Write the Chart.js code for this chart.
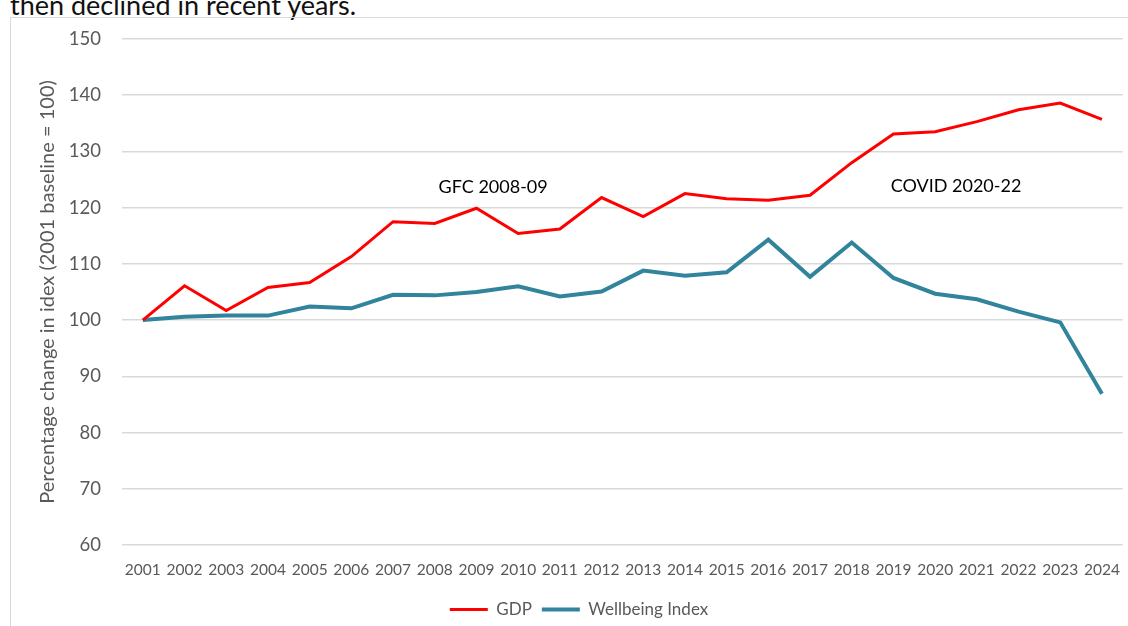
<!DOCTYPE html>
<html>
<head>
<meta charset="utf-8">
<script src="https://cdn.jsdelivr.net/npm/chart.js@4.4.1/dist/chart.umd.min.js"></script>
<style>
  html, body { margin: 0; padding: 0; background: #fff; overflow: hidden; }
  #caption { position: absolute; left: 10px; top: -12px; font-family: Lato, sans-serif; font-weight: 400; font-size: 27px; color: #111; white-space: nowrap; }
  #frame { position: absolute; left: 10px; top: 17px; width: 1200px; height: 700px; border: 1.5px solid #d9d9d9; }
  #wrap { position: absolute; left: 0; top: 0; width: 1128px; height: 626px; }
</style>
</head>
<body>
<div id="caption">then declined in recent years.</div>
<div id="frame"></div>
<div id="wrap"><canvas id="canvas" width="1128" height="626"></canvas></div>
<script>
// values
var years = ['2001', '2002', '2003', '2004', '2005', '2006', '2007', '2008', '2009', '2010', '2011', '2012',
             '2013', '2014', '2015', '2016', '2017', '2018', '2019', '2020', '2021', '2022', '2023', '2024'];
var gdp = [100, 106.1, 101.7, 105.8, 106.7, 111.3, 117.5, 117.2, 119.9, 115.4, 116.2, 121.8,
           118.4, 122.5, 121.6, 121.3, 122.2, 128.0, 133.1, 133.5, 135.3, 137.4, 138.6, 135.7];
var wellbeing = [100, 100.6, 100.8, 100.8, 102.4, 102.1, 104.5, 104.4, 105.0, 106.0, 104.2, 105.1,
                 108.8, 107.9, 108.5, 114.3, 107.7, 113.8, 107.5, 104.7, 103.7, 101.5, 99.6, 86.9];
var yMin = 60, yMax = 150, yStep = 10;

// text notes, anchored in data units (category index, index value)
var notes = [
  { text: 'GFC 2008-09', at: 8.4, value: 123.6 },
  { text: 'COVID 2020-22', at: 19.5, value: 123.8 }
];

var notePlugin = {
  id: 'notes',
  afterDatasetsDraw: function (chart) {
    var ctx = chart.ctx;
    var x = chart.scales.x, y = chart.scales.y;
    ctx.save();
    ctx.font = '18px Lato';
    ctx.fillStyle = '#000';
    ctx.textAlign = 'center';
    ctx.textBaseline = 'middle';
    notes.forEach(function (n) {
      ctx.fillText(n.text, x.getPixelForValue(n.at), y.getPixelForValue(n.value));
    });
    ctx.restore();
  }
};

// nudge the legend a bit right/down, like the excel original
var legendShift = {
  id: 'legendShift',
  afterLayout: function (chart) {
    var lg = chart.legend;
    lg.left += 17; lg.right += 17;
    lg.top += 2; lg.bottom += 2;
  }
};

var ctx = document.getElementById('canvas');

new Chart(ctx, {
  type: 'line',
  data: {
    labels: years,
    datasets: [{
      label: 'GDP',
      data: gdp,
      borderColor: '#ff0000',
      backgroundColor: '#ff0000',
      borderWidth: 3,
      pointRadius: 0,
      tension: 0
    }, {
      label: 'Wellbeing Index',
      data: wellbeing,
      borderColor: '#31849b',
      backgroundColor: '#31849b',
      borderWidth: 4,
      pointRadius: 0,
      tension: 0
    }]
  },
  options: {
    responsive: false,
    animation: false,
    devicePixelRatio: 1,
    layout: { padding: { top: 39, right: 4, bottom: 0, left: 0 } },
    plugins: {
      legend: {
        position: 'bottom',
        labels: {
          usePointStyle: true,
          pointStyle: 'line',
          pointStyleWidth: 38,
          font: { family: 'Lato', size: 17 },
          color: '#595959',
          padding: 10
        }
      },
      tooltip: { enabled: false }
    },
    scales: {
      x: {
        offset: true,
        grid: { display: false },
        border: { display: false },
        ticks: {
          autoSkip: false,
          maxRotation: 0,
          padding: 8,
          color: '#595959',
          font: { family: 'Lato', size: 15.5 }
        },
        afterFit: function (axis) { axis.height = 44; }
      },
      y: {
        min: yMin,
        max: yMax,
        grid: { color: '#d9d9d9', lineWidth: 1.5, drawTicks: false },
        border: { display: false },
        ticks: {
          stepSize: yStep,
          padding: 21,
          color: '#595959',
          font: { family: 'Lato', size: 18.5 }
        },
        title: {
          display: true,
          text: 'Percentage change in idex (2001 baseline = 100)',
          color: '#595959',
          font: { family: 'Lato', size: 20 },
          padding: { top: 36, bottom: 0 }
        },
        afterFit: function (axis) { axis.width = 122; }
      }
    }
  },
  plugins: [notePlugin, legendShift]
});
</script>
</body>
</html>
